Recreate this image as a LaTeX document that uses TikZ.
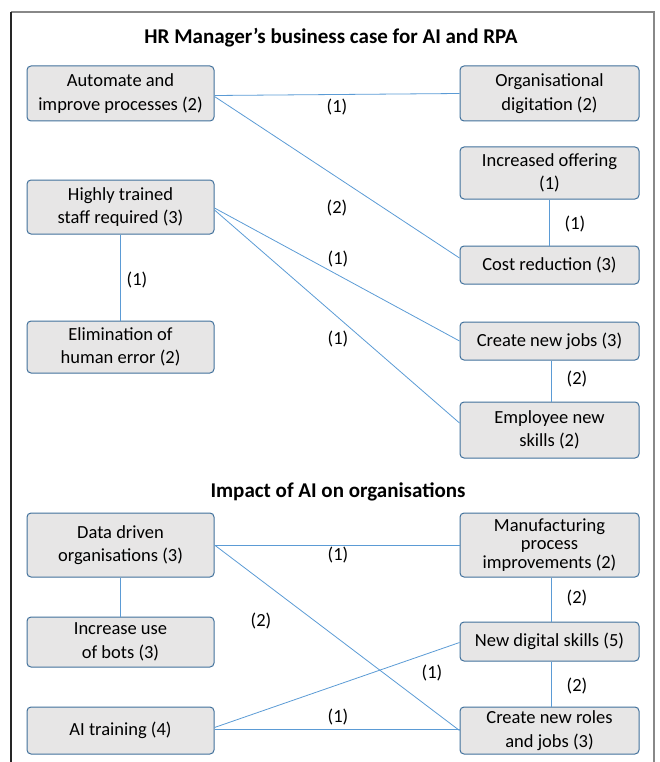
\documentclass[tikz,border=0pt]{standalone}
\usepackage{fontspec}
\setmainfont{Carlito}
\usetikzlibrary{calc}
\definecolor{boxfill}{HTML}{E7E6E6}
\definecolor{boxline}{HTML}{41719C}
\definecolor{connc}{HTML}{5B9BD5}
\definecolor{framegray}{HTML}{888888}
\begin{document}
\begin{tikzpicture}[x=1pt,y=-1pt,
  box/.style={draw=boxline,fill=boxfill,line width=1pt,rounded corners=4pt,align=center,
    font=\fontsize{18.5}{23.5}\selectfont,inner sep=0pt},
  lbox/.style={box,minimum width=187pt},
  rbox/.style={box,minimum width=179pt},
  conn/.style={draw=connc,line width=0.8pt},
  lbl/.style={font=\fontsize{18.5}{23}\selectfont,inner sep=0pt},
  ttl/.style={font=\bfseries\fontsize{21}{25}\selectfont,inner sep=0pt}]
\useasboundingbox (0,0) rectangle (660,762);
% frame
\draw[line width=1.2pt,color=framegray] (11,12) -- (654,12) -- (654,762);
\draw[line width=1.2pt,color=black!85] (11,762) -- (11,12);

% titles
\node[ttl] (t1) at (331,38) {HR Manager’s business case for AI and RPA};
\node[ttl] (t2) at (338,492) {Impact of AI on organisations};

% top boxes
\node[lbox,minimum height=55pt] (A) at (120.5,93.5) {Automate and\\improve processes (2)};
\node[rbox,minimum height=55pt] (B) at (549.5,93.5) {Organisational\\digitation (2)};
\node[rbox,minimum height=52pt] (C) at (549.5,173) {Increased offering\\(1)};
\node[lbox,minimum height=54pt] (D) at (120.5,207) {Highly trained\\staff required (3)};
\node[rbox,minimum height=38pt] (E) at (549.5,265) {Cost reduction (3)};
\node[lbox,minimum height=52pt] (F) at (120.5,347) {Elimination of\\human error (2)};
\node[rbox,minimum height=38pt] (G) at (549.5,341) {Create new jobs (3)};
\node[rbox,minimum height=56pt] (H) at (549.5,430) {Employee new\\skills (2)};

% bottom boxes
\node[lbox,minimum height=64pt] (I) at (120.5,545) {Data driven\\organisations (3)};
\node[rbox,minimum height=64pt,font=\fontsize{18.5}{18.5}\selectfont] (J) at (549.5,545) {Manufacturing\\process\\improvements (2)};
\node[lbox,minimum height=50pt] (K) at (120.5,642) {Increase use\\of bots (3)};
\node[rbox,minimum height=39pt] (L) at (549.5,641.5) {New digital skills (5)};
\node[lbox,minimum height=47pt] (M) at (120.5,730.5) {AI training (4)};
\node[rbox,minimum height=47pt] (N) at (549.5,730.5) {Create new roles\\and jobs (3)};

% top connectors
\draw[conn] ($(A.east)+(0,2)$) -- (B.west);
\draw[conn] ($(A.east)+(0,3)$) -- ($(E.west)+(0,-7)$);
\draw[conn] ($(D.east)+(0,1)$) -- (G.west);
\draw[conn] ($(D.east)+(0,3)$) -- ($(H.west)+(0,-7)$);
\draw[conn] (D.south) -- (F.north);
\draw[conn] (C.south) -- (E.north);
\draw[conn] ($(G.south)+(2,0)$) -- ($(H.north)+(2,0)$);

% bottom connectors
\draw[conn] (I.east) -- (J.west);
\draw[conn] (I.east) -- (N.west);
\draw[conn] (I.south) -- (K.north);
\draw[conn] ($(M.east)+(0,-3)$) -- ($(L.west)+(0,1)$);
\draw[conn] ($(M.east)+(0,-1)$) -- ($(N.west)+(0,-1)$);
\draw[conn] ($(J.south)+(2,0)$) -- ($(L.north)+(2,0)$);
\draw[conn] ($(L.south)+(2,0)$) -- ($(N.north)+(2,0)$);

% labels top
\node[lbl] (l1) at (337,107) {(1)};
\node[lbl] (l2) at (337,208) {(2)};
\node[lbl] (l3) at (338,259) {(1)};
\node[lbl] (l4) at (338,339) {(1)};
\node[lbl] (l5) at (137,280) {(1)};
\node[lbl] (l6) at (575,224) {(1)};
\node[lbl] (l7) at (577,379) {(2)};

% labels bottom
\node[lbl] (l8) at (338,555) {(1)};
\node[lbl] (l9) at (261,621) {(2)};
\node[lbl] (l10) at (432,673) {(1)};
\node[lbl] (l11) at (338,717) {(1)};
\node[lbl] (l12) at (577,598) {(2)};
\node[lbl] (l13) at (577,686) {(2)};
\end{tikzpicture}
\end{document}
